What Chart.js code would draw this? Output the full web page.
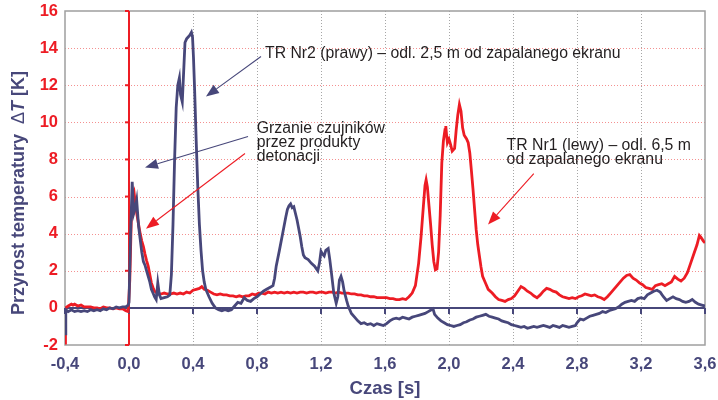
<!DOCTYPE html>
<html>
<head>
<meta charset="utf-8">
<script src="https://cdn.jsdelivr.net/npm/chart.js@4.4.1/dist/chart.umd.min.js"></script>
<style>
html,body{margin:0;padding:0;background:#fff;}
canvas{display:block;}
</style>
</head>
<body>
<canvas id="c" width="718" height="400"></canvas>
<script>
// ---- data ----
const xTickValues = [-0.4, 0.0, 0.4, 0.8, 1.2, 1.6, 2.0, 2.4, 2.8, 3.2, 3.6];
const yTickValues = [-2, 0, 2, 4, 6, 8, 10, 12, 14, 16];

// TR Nr2 (prawy) - navy series
const timeNr2 = [
 -0.4,-0.395,-0.38,-0.36,-0.34,-0.32,-0.30,-0.28,-0.26,-0.24,-0.22,-0.20,-0.18,-0.16,-0.14,-0.12,-0.10,-0.08,-0.06,-0.04,-0.02,-0.005,
 0.0,0.01,0.02,0.03,0.04,0.048,0.06,0.07,0.08,0.09,0.10,0.11,0.12,0.13,0.14,0.15,0.16,0.17,0.18,0.19,0.20,0.22,0.24,0.255,0.265,0.275,0.285,0.295,
 0.305,0.315,0.322,0.333,0.342,0.35,0.36,0.37,0.38,0.39,0.397,0.403,0.41,0.42,0.43,0.44,0.45,0.46,0.47,0.48,0.50,0.52,0.54,0.56,0.58,0.60,0.62,0.64,0.66,0.68,
 0.70,0.72,0.74,0.76,0.78,0.80,0.82,0.84,0.86,0.88,0.90,0.91,0.92,0.94,0.96,0.98,0.99,1.00,1.01,1.02,1.03,1.04,1.05,1.06,1.07,1.08,1.09,1.10,1.12,1.14,
 1.16,1.18,1.19,1.20,1.21,1.22,1.23,1.245,1.255,1.265,1.28,1.295,1.305,1.315,1.325,1.335,1.345,1.36,1.37,1.39,1.41,1.43,1.45,1.47,1.49,1.51,1.53,1.55,1.57,1.59,
 1.61,1.63,1.65,1.67,1.69,1.71,1.73,1.75,1.77,1.79,1.81,1.83,1.85,1.87,1.89,1.90,1.91,1.93,1.95,1.97,1.99,2.01,2.03,2.05,2.07,2.09,2.11,2.13,2.15,2.17,
 2.19,2.21,2.23,2.25,2.27,2.29,2.31,2.33,2.35,2.37,2.39,2.41,2.43,2.45,2.47,2.49,2.51,2.53,2.55,2.57,2.59,2.61,2.63,2.65,2.67,2.69,2.71,2.73,2.75,2.77,
 2.79,2.80,2.82,2.84,2.86,2.88,2.90,2.92,2.94,2.96,2.98,3.00,3.02,3.04,3.06,3.08,3.10,3.12,3.14,3.16,3.18,3.20,3.22,3.24,3.26,3.28,3.30,3.32,3.34,3.36,
 3.38,3.40,3.42,3.44,3.46,3.48,3.50,3.52,3.54,3.56,3.58,3.60
];
const tempNr2 = [
 -1.4,-0.1,-0.2,-0.1,-0.2,-0.15,-0.2,-0.15,-0.2,-0.1,-0.15,-0.1,-0.15,-0.05,-0.1,0.0,-0.05,0.05,0.0,0.05,0.05,0.15,
 0.3,4.0,6.8,5.1,5.4,5.8,4.4,3.7,3.0,2.5,2.3,2.0,1.7,1.4,1.0,0.8,0.6,0.45,1.35,0.7,0.5,0.55,0.6,0.7,1.8,4.5,8.0,10.8,
 12.0,12.4,11.5,11.1,12.8,14.3,14.5,14.6,14.7,14.85,14.6,13.5,11.8,9.0,6.5,4.5,3.1,2.0,1.4,1.0,0.6,0.25,0.0,-0.1,-0.15,-0.1,-0.15,-0.1,0.1,0.3,
 0.25,0.55,0.4,0.35,0.5,0.6,0.75,0.9,1.0,1.1,1.2,1.6,2.25,3.1,4.0,4.9,5.3,5.5,5.6,5.4,5.45,5.1,4.75,4.3,3.85,3.3,2.85,2.7,2.6,2.4,
 2.25,2.0,2.4,3.05,2.9,2.8,3.1,3.2,2.6,1.9,0.8,0.25,0.6,1.5,1.7,1.4,0.9,0.4,0.1,-0.3,-0.5,-0.7,-0.85,-0.8,-0.9,-0.85,-0.95,-0.85,-0.9,-0.95,
 -0.85,-0.7,-0.6,-0.55,-0.6,-0.5,-0.55,-0.6,-0.5,-0.45,-0.4,-0.35,-0.3,-0.2,-0.1,-0.05,-0.35,-0.55,-0.7,-0.8,-0.9,-0.95,-1.0,-0.95,-0.9,-0.8,-0.75,-0.65,-0.6,-0.5,
 -0.45,-0.4,-0.35,-0.45,-0.5,-0.55,-0.6,-0.7,-0.75,-0.8,-0.9,-0.95,-1.0,-1.05,-1.0,-1.1,-1.05,-1.0,-1.05,-1.0,-0.95,-1.0,-1.05,-0.95,-1.0,-1.05,-0.95,-1.0,-1.05,-1.0,
 -0.95,-0.8,-0.6,-0.65,-0.55,-0.45,-0.4,-0.35,-0.3,-0.2,-0.25,-0.15,-0.1,-0.05,0.05,0.2,0.3,0.35,0.4,0.35,0.5,0.55,0.5,0.7,0.8,0.9,0.95,0.85,0.6,0.4,
 0.5,0.6,0.5,0.45,0.35,0.3,0.35,0.45,0.3,0.2,0.15,0.1
];

// TR Nr1 (lewy) - red series
const timeNr1 = [
 -0.4,-0.397,-0.38,-0.36,-0.35,-0.34,-0.32,-0.30,-0.28,-0.26,-0.24,-0.22,-0.20,-0.18,-0.16,-0.14,-0.12,-0.10,-0.08,-0.06,-0.04,-0.02,-0.005,
 0.005,0.015,0.025,0.032,0.04,0.05,0.06,0.07,0.08,0.09,0.10,0.11,0.12,0.13,0.14,0.15,0.16,0.18,0.20,0.22,0.24,0.26,0.28,0.30,0.32,0.34,0.36,0.38,0.40,0.42,0.44,0.455,
 0.47,0.49,0.51,0.53,0.55,0.57,0.59,0.61,0.63,0.65,0.67,0.69,0.71,0.73,0.75,0.77,0.79,0.81,0.83,0.85,0.87,0.89,0.91,0.93,0.95,0.97,0.99,1.01,1.03,1.05,
 1.07,1.09,1.11,1.13,1.15,1.17,1.19,1.21,1.23,1.25,1.27,1.29,1.31,1.33,1.35,1.37,1.39,1.41,1.43,1.45,1.47,1.49,1.51,1.53,1.55,1.57,1.59,1.61,1.63,1.65,
 1.67,1.69,1.71,1.73,1.75,1.77,1.79,1.81,1.825,1.84,1.85,1.857,1.865,1.875,1.885,1.895,1.905,1.915,1.925,1.935,1.945,1.955,1.965,1.975,1.98,1.985,1.99,2.00,2.01,2.02,
 2.035,2.045,2.055,2.065,2.075,2.085,2.095,2.11,2.12,2.13,2.14,2.15,2.16,2.17,2.18,2.19,2.20,2.21,2.23,2.245,2.27,2.29,2.31,2.33,2.35,2.37,2.39,2.41,2.43,2.45,
 2.47,2.49,2.51,2.53,2.55,2.57,2.59,2.61,2.63,2.65,2.67,2.69,2.71,2.73,2.75,2.77,2.79,2.81,2.83,2.85,2.87,2.89,2.91,2.93,2.95,2.97,2.99,3.01,3.03,3.05,
 3.07,3.09,3.11,3.13,3.15,3.17,3.19,3.21,3.23,3.25,3.27,3.29,3.31,3.33,3.35,3.37,3.39,3.41,3.43,3.45,3.47,3.49,3.51,3.53,3.55,3.565,3.575,3.59,3.60
];
const tempNr1 = [
 -1.9,0.0,0.1,0.2,0.15,0.2,0.1,0.15,0.05,0.05,0.05,0.0,0.0,-0.05,0.05,0.0,0.0,-0.05,0.0,-0.05,-0.05,-0.15,-0.2,
 1.5,5.0,6.0,6.2,5.6,5.0,4.5,4.0,3.6,3.3,2.9,2.55,2.25,1.8,1.35,1.1,0.9,0.75,0.75,0.8,0.75,0.75,0.8,0.75,0.8,0.75,0.85,0.8,0.95,1.0,1.05,1.15,
 1.0,0.95,0.85,0.75,0.7,0.75,0.7,0.7,0.65,0.65,0.6,0.65,0.6,0.65,0.65,0.75,0.7,0.8,0.8,0.75,0.85,0.8,0.85,0.8,0.85,0.8,0.85,0.8,0.85,0.8,
 0.85,0.85,0.8,0.85,0.85,0.8,0.85,0.85,0.8,0.85,0.85,0.8,0.85,0.8,0.8,0.8,0.75,0.75,0.7,0.7,0.65,0.65,0.6,0.6,0.55,0.55,0.55,0.55,0.5,0.5,
 0.45,0.45,0.5,0.45,0.6,0.8,1.2,2.4,3.8,5.5,6.6,6.9,6.5,5.5,4.5,3.4,2.5,2.05,2.1,3.0,5.0,7.8,9.0,9.6,9.8,9.3,8.9,9.1,8.8,8.45,
 8.6,9.6,10.4,10.96,10.6,9.7,9.3,9.1,8.9,8.35,7.4,6.4,5.3,4.2,3.4,2.8,2.2,1.7,1.3,1.0,0.8,0.6,0.45,0.4,0.35,0.45,0.5,0.65,0.9,1.15,
 1.05,0.9,0.8,0.65,0.55,0.7,0.9,1.05,1.0,0.9,0.85,0.7,0.6,0.55,0.5,0.55,0.5,0.6,0.65,0.75,0.7,0.65,0.7,0.6,0.55,0.45,0.6,0.8,1.0,1.2,
 1.4,1.6,1.75,1.8,1.6,1.5,1.35,1.25,1.1,1.05,1.0,1.2,1.25,1.3,1.2,1.3,1.4,1.7,1.55,1.45,1.6,1.9,2.4,2.9,3.4,3.9,3.8,3.6,3.5
];

// ---- styles ----
const NAVY = '#47477a';
const RED = '#ed1c24';
const TEXT = '#231f20';
const FONT = '"Liberation Sans", Arial, sans-serif';

const toPts = (ts, vs) => ts.map((t, i) => ({x: t, y: vs[i]}));

const framePlugin = {
  id: 'frame',
  beforeDatasetsDraw(chart) {
    const {ctx, chartArea: a, scales: {x, y}} = chart;
    ctx.save();
    ctx.lineWidth = 1;
    ctx.setLineDash([1, 2]);
    ctx.strokeStyle = '#a6a6a6';
    x.ticks.forEach(tk => {
      if (tk.value <= x.min || tk.value >= x.max) return;
      const px = Math.round(x.getPixelForValue(tk.value)) + 0.5;
      ctx.beginPath(); ctx.moveTo(px, a.top); ctx.lineTo(px, a.bottom); ctx.stroke();
    });
    ctx.strokeStyle = 'rgba(236,70,70,0.6)';
    y.ticks.forEach(tk => {
      if (tk.value <= y.min || tk.value >= y.max || tk.value === 0) return;
      const py = Math.round(y.getPixelForValue(tk.value)) + 0.5;
      ctx.beginPath(); ctx.moveTo(a.left, py); ctx.lineTo(a.right, py); ctx.stroke();
    });
    ctx.setLineDash([]);
    ctx.strokeStyle = '#9f9f9f';
    ctx.lineWidth = 1.5;
    ctx.strokeRect(a.left, a.top, a.right - a.left, a.bottom - a.top);
    const x0 = x.getPixelForValue(0);
    ctx.strokeStyle = RED;
    ctx.lineWidth = 2;
    ctx.beginPath(); ctx.moveTo(x0, a.top); ctx.lineTo(x0, a.bottom); ctx.stroke();
    y.ticks.forEach(tk => {
      const py = y.getPixelForValue(tk.value);
      ctx.beginPath(); ctx.moveTo(x0 - 4, py); ctx.lineTo(x0, py); ctx.stroke();
    });
    const y0 = y.getPixelForValue(0);
    ctx.strokeStyle = NAVY;
    ctx.lineWidth = 2;
    ctx.beginPath(); ctx.moveTo(a.left, y0); ctx.lineTo(a.right, y0); ctx.stroke();
    x.ticks.forEach(tk => {
      const px = x.getPixelForValue(tk.value);
      ctx.beginPath(); ctx.moveTo(px, y0); ctx.lineTo(px, y0 + 6); ctx.stroke();
    });
    ctx.restore();
  }
};

function arrow(ctx, x1, y1, x2, y2, color) {
  const ang = Math.atan2(y2 - y1, x2 - x1);
  const L = 13, W = 5;
  const bx = x2 - L * Math.cos(ang), by = y2 - L * Math.sin(ang);
  ctx.strokeStyle = color; ctx.fillStyle = color; ctx.lineWidth = 1.1;
  ctx.beginPath(); ctx.moveTo(x1, y1); ctx.lineTo(bx, by); ctx.stroke();
  ctx.beginPath();
  ctx.moveTo(x2, y2);
  ctx.lineTo(bx + W * Math.sin(ang), by - W * Math.cos(ang));
  ctx.lineTo(bx - W * Math.sin(ang), by + W * Math.cos(ang));
  ctx.closePath(); ctx.fill();
}

const notePlugin = {
  id: 'notes',
  afterDatasetsDraw(chart) {
    const {ctx, scales: {x, y}} = chart;
    const X = v => x.getPixelForValue(v), Y = v => y.getPixelForValue(v);
    ctx.save();
    arrow(ctx, X(0.825), Y(13.55), X(0.481), Y(11.39), NAVY);
    arrow(ctx, X(0.744), Y(9.24), X(0.10), Y(7.56), NAVY);
    arrow(ctx, X(0.725), Y(8.32), X(0.106), Y(4.27), RED);
    arrow(ctx, X(2.53), Y(7.24), X(2.244), Y(4.49), RED);
    ctx.fillStyle = TEXT;
    ctx.font = '15.8px ' + FONT;
    ctx.textAlign = 'left';
    ctx.textBaseline = 'alphabetic';
    ctx.fillText('TR Nr2 (prawy) – odl. 2,5 m od zapalanego ekranu', X(0.85), Y(13.48));
    ctx.fillText('Grzanie czujników', X(0.798), Y(9.45));
    ctx.fillText('przez produkty', X(0.798), Y(8.67));
    ctx.fillText('detonacji', X(0.798), Y(7.89));
    ctx.fillText('TR Nr1 (lewy) – odl. 6,5 m', X(2.36), Y(8.5));
    ctx.fillText('od zapalanego ekranu', X(2.36), Y(7.73));
    ctx.restore();
  },
  afterDraw(chart) {
    const ctx = chart.ctx;
    const parts = [
      ['Przyrost temperatury  ', 'bold 18px ' + FONT],
      ['Δ', '18px ' + FONT],
      ['T', 'italic bold 18px ' + FONT],
      [' [K]', 'bold 18px ' + FONT]
    ];
    ctx.save();
    ctx.translate(24, 315);
    ctx.rotate(-Math.PI / 2);
    ctx.fillStyle = NAVY;
    ctx.textAlign = 'left';
    ctx.textBaseline = 'alphabetic';
    let pos = 0;
    parts.forEach(([txt, f]) => {
      ctx.font = f;
      ctx.fillText(txt, pos, 0);
      pos += ctx.measureText(txt).width;
    });
    ctx.restore();
  }
};

new Chart(document.getElementById('c'), {
  type: 'line',
  data: {
    datasets: [
      {label: 'TR Nr2 (prawy)', data: toPts(timeNr2, tempNr2), borderColor: NAVY, borderWidth: 2.8, pointRadius: 0, tension: 0, fill: false},
      {label: 'TR Nr1 (lewy)', data: toPts(timeNr1, tempNr1), borderColor: RED, borderWidth: 2.8, pointRadius: 0, tension: 0, fill: false}
    ]
  },
  options: {
    responsive: false,
    animation: false,
    devicePixelRatio: 1,
    layout: {padding: {left: 0, right: 13, top: 11, bottom: 0}},
    plugins: {legend: {display: false}, tooltip: {enabled: false}},
    scales: {
      x: {
        type: 'linear', min: -0.4, max: 3.6,
        afterBuildTicks: s => { s.ticks = xTickValues.map(v => ({value: v})); },
        afterFit: s => { s.height = 55; s.paddingLeft = 0; s.paddingRight = 0; },
        grid: {display: false, drawTicks: false},
        border: {display: false},
        ticks: {
          color: NAVY, padding: 10,
          font: {family: FONT, size: 16.5, weight: 'bold'},
          callback: v => v.toFixed(1).replace('.', ','),
          maxRotation: 0, autoSkip: false
        },
        title: {display: true, text: 'Czas [s]', color: NAVY, padding: {top: 0, bottom: 0},
          font: {family: FONT, size: 18.5, weight: 'bold'}}
      },
      y: {
        type: 'linear', min: -2, max: 16,
        afterBuildTicks: s => { s.ticks = yTickValues.map(v => ({value: v})); },
        afterFit: s => { s.width = 65; s.paddingTop = 0; s.paddingBottom = 0; },
        grid: {display: false, drawTicks: false},
        border: {display: false},
        ticks: {
          color: RED, padding: 7,
          font: {family: FONT, size: 16.5, weight: 'bold'},
          callback: v => String(v)
        }
      }
    }
  },
  plugins: [framePlugin, notePlugin]
});
</script>
</body>
</html>
